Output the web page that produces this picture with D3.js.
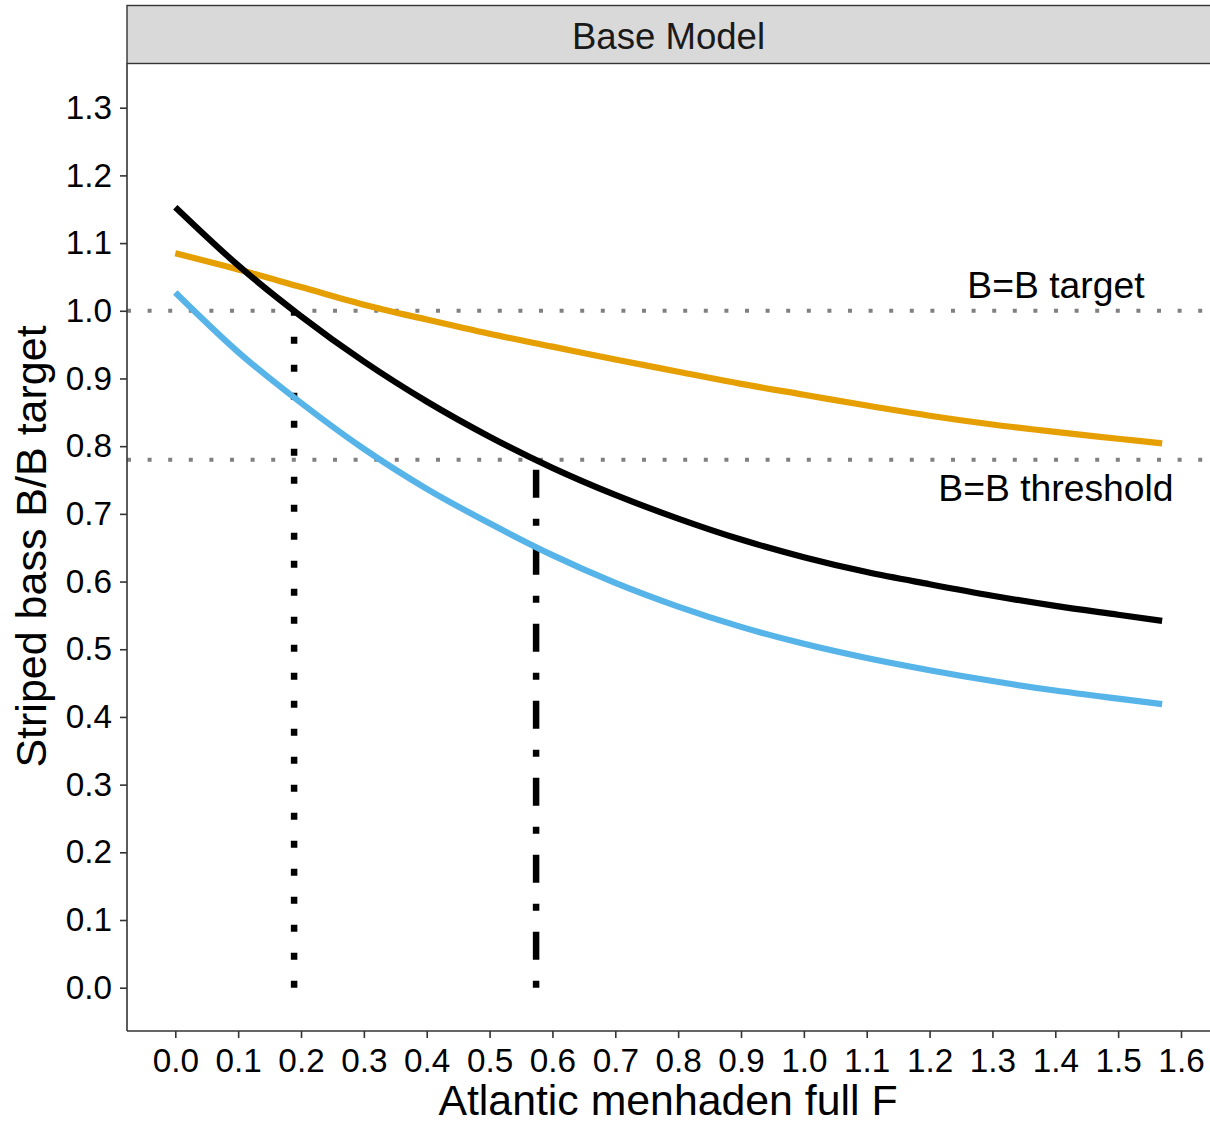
<!DOCTYPE html>
<html><head><meta charset="utf-8">
<script src="https://cdn.jsdelivr.net/npm/d3@7"></script>
<style>body{margin:0;background:#fff}svg{display:block}text{font-family:"Liberation Sans",Arial,sans-serif}</style>
</head><body>
<script>
const fValues = [0, 0.1, 0.2, 0.3, 0.4, 0.5, 0.6, 0.7, 0.8, 0.9, 1.0, 1.1, 1.2, 1.3, 1.4, 1.5, 1.57];
const blackSeries  = [1.153, 1.067, 0.992, 0.925, 0.866, 0.814, 0.768, 0.728, 0.693, 0.662, 0.636, 0.614, 0.596, 0.579, 0.564, 0.551, 0.542];
const orangeSeries = [1.085, 1.061, 1.035, 1.009, 0.987, 0.966, 0.947, 0.928, 0.910, 0.892, 0.876, 0.860, 0.845, 0.832, 0.821, 0.811, 0.804];
const blueSeries   = [1.027, 0.939, 0.864, 0.796, 0.737, 0.686, 0.639, 0.598, 0.563, 0.533, 0.508, 0.487, 0.469, 0.453, 0.439, 0.427, 0.419];
const xTicks = [0,0.1,0.2,0.3,0.4,0.5,0.6,0.7,0.8,0.9,1.0,1.1,1.2,1.3,1.4,1.5,1.6];
const yTicks = [0,0.1,0.2,0.3,0.4,0.5,0.6,0.7,0.8,0.9,1.0,1.1,1.2,1.3];
const refLevels = [1.0, 0.78];
const refLabels = ["B=B target", "B=B threshold"];
const refF = [0.189, 0.574];
const stripTitle = "Base Model";
const xTitle = "Atlantic menhaden full F";
const yTitle = "Striped bass B/B target";

const W = 1210, H = 1123;
const svg = d3.select("body").append("svg").attr("width", W).attr("height", H);
const x = d3.scaleLinear().domain([0, 1.6]).range([175.3, 1181]);
const y = d3.scaleLinear().domain([0, 1.3]).range([987.7, 107.7]);
const panelL = 127, panelR = 1212, panelT = 63.5, panelB = 1031;

// strip
svg.append("rect").attr("x", panelL).attr("y", 5.5).attr("width", panelR - panelL).attr("height", panelT - 5.5)
  .attr("fill", "#d9d9d9").attr("stroke", "#333").attr("stroke-width", 1.4);
svg.append("text").attr("x", (panelL + 1210) / 2).attr("y", 36).attr("text-anchor", "middle")
  .attr("dominant-baseline", "central").attr("font-size", 36.6).attr("fill", "#1a1a1a").text(stripTitle);

// reference horizontal lines
svg.selectAll("line.ref").data(refLevels).enter().append("line")
  .attr("x1", panelL).attr("x2", panelR).attr("y1", d => y(d)).attr("y2", d => y(d))
  .attr("stroke", "#808080").attr("stroke-width", 4).attr("stroke-dasharray", "4,16.6");

// vertical reference segments
const seg = d3.line().x(d => x(d[0])).y(d => y(d[1]));
svg.append("path").attr("d", seg([[refF[0], 0], [refF[0], refLevels[0]]]))
  .attr("stroke", "#000").attr("stroke-width", 6.5).attr("fill", "none").attr("stroke-dasharray", "7,21");
svg.append("path").attr("d", seg([[refF[1], 0], [refF[1], refLevels[1]]]))
  .attr("stroke", "#000").attr("stroke-width", 6.5).attr("fill", "none").attr("stroke-dasharray", "7,21,28,21");

// curves
const line = d3.line().x((d, i) => x(fValues[i])).y(d => y(d)).curve(d3.curveMonotoneX);
[[blueSeries, "#56B4E9"], [orangeSeries, "#E69F00"], [blackSeries, "#000000"]].forEach(([s, c]) => {
  svg.append("path").attr("d", line(s)).attr("fill", "none").attr("stroke", c).attr("stroke-width", 6.2);
});

// labels
svg.selectAll("text.reflab").data(refLabels).enter().append("text")
  .attr("x", x(1.401)).attr("y", (d, i) => i === 0 ? 297.7 : 501)
  .attr("text-anchor", "middle").attr("font-size", 37.3).attr("fill", "#000").text(d => d);

// axes
const xAxis = svg.append("g").attr("transform", `translate(0,${panelB})`)
  .call(d3.axisBottom(x).tickValues(xTicks).tickFormat(d3.format(".1f")).tickSizeOuter(0).tickSize(7).tickPadding(10));
const yAxis = svg.append("g").attr("transform", `translate(${panelL},0)`)
  .call(d3.axisLeft(y).tickValues(yTicks).tickFormat(d3.format(".1f")).tickSizeOuter(0).tickSize(7).tickPadding(8));
[xAxis, yAxis].forEach(g => {
  g.select(".domain").attr("stroke", "#333").attr("stroke-width", 1.6);
  g.selectAll(".tick line").attr("stroke", "#333").attr("stroke-width", 1.6);
  g.selectAll(".tick text").attr("font-size", 33.3).attr("fill", "#000").attr("font-family", "Liberation Sans, Arial, sans-serif");
});
xAxis.select(".domain").attr("d", `M${panelL},0H${panelR}`);
yAxis.select(".domain").attr("d", `M0,${panelT}V${panelB}`);

svg.append("text").attr("x", 668).attr("y", 1115).attr("text-anchor", "middle")
  .attr("font-size", 42.8).attr("fill", "#000").text(xTitle);
svg.append("text").attr("transform", "translate(46,546.5) rotate(-90)").attr("text-anchor", "middle")
  .attr("font-size", 43).attr("fill", "#000").text(yTitle);
</script>
</body></html>
